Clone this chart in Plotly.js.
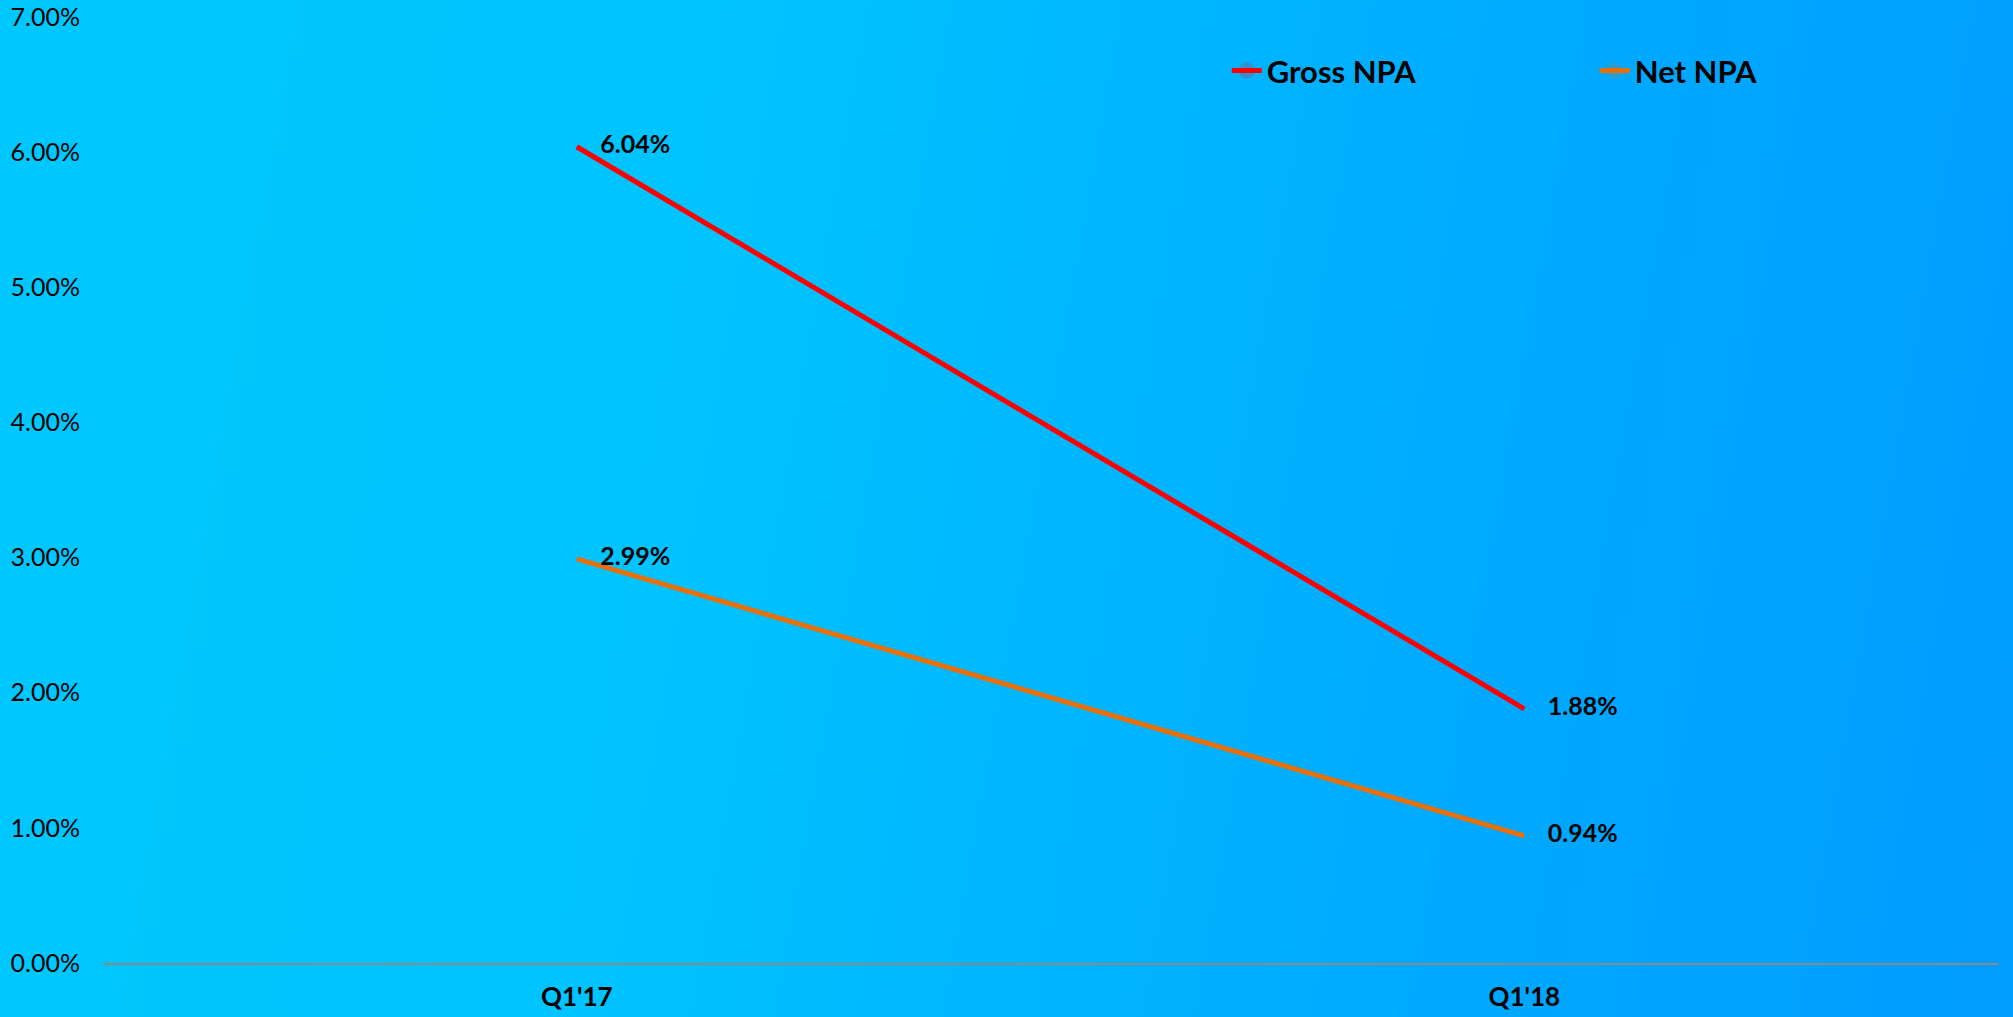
<!DOCTYPE html>
<html>
<head>
<meta charset="utf-8">
<script src="https://cdn.plot.ly/plotly-3.0.1.min.js"></script>
<style>
  html, body { margin: 0; padding: 0; }
  body { width: 2013px; height: 1017px; overflow: hidden;
         background: linear-gradient(100deg, #00c8ff 0%, #00c3ff 35%, #00abff 70%, #009cff 100%); }
  #chart { width: 2013px; height: 1017px; }
</style>
</head>
<body>
<div id="chart"></div>
<script>
const categories = ["Q1'17", "Q1'18"];
const grossNPA = [0.0604, 0.0188];
const netNPA = [0.0299, 0.0094];
const seriesNames = ["Gross NPA", "Net NPA"];

const FONT = "Lato, 'Open Sans', sans-serif";

function series(name, y, color) {
  return {
    type: 'scatter',
    mode: 'lines+markers+text',
    name: name,
    x: categories,
    y: y,
    line: { color: color, width: 5 },
    marker: { size: 36, opacity: 0, color: color },
    text: y.map(v => (v * 100).toFixed(2) + '%'),
    textposition: 'middle right',
    textfont: { family: FONT, size: 25, color: '#000', weight: 'bold' },
    cliponaxis: false,
    hoverinfo: 'skip'
  };
}

const data = [
  series(seriesNames[0], grossNPA, '#ff0000'),
  series(seriesNames[1], netNPA, '#e8700a')
];

const layout = {
  width: 2013,
  height: 1017,
  margin: { l: 103, r: 15, t: 17, b: 54, autoexpand: false },
  paper_bgcolor: 'rgba(0,0,0,0)',
  plot_bgcolor: 'rgba(0,0,0,0)',
  font: { family: FONT, color: '#000' },
  showlegend: true,
  legend: {
    orientation: 'h',
    x: 0.593, y: 0.943,
    xanchor: 'left', yanchor: 'middle',
    entrywidth: 323, entrywidthmode: 'pixels',
    font: { family: FONT, size: 31, color: '#000', weight: 'bold' },
    bgcolor: 'rgba(0,0,0,0)'
  },
  xaxis: {
    type: 'category',
    range: [-0.5, 1.5],
    showgrid: false,
    zeroline: false,
    showline: true,
    linecolor: '#8a8a8a',
    linewidth: 2,
    ticks: '',
    ticklabelstandoff: 10,
    tickfont: { family: FONT, size: 26, color: '#000', weight: 'bold' }
  },
  yaxis: {
    range: [0, 0.07],
    dtick: 0.01,
    tickformat: '.2%',
    showgrid: false,
    zeroline: false,
    showline: false,
    ticks: '',
    ticklabelstandoff: 22,
    tickfont: { family: FONT, size: 25, color: '#000' }
  }
};

Plotly.newPlot('chart', data, layout, { staticPlot: true, displayModeBar: false });
</script>
</body>
</html>
